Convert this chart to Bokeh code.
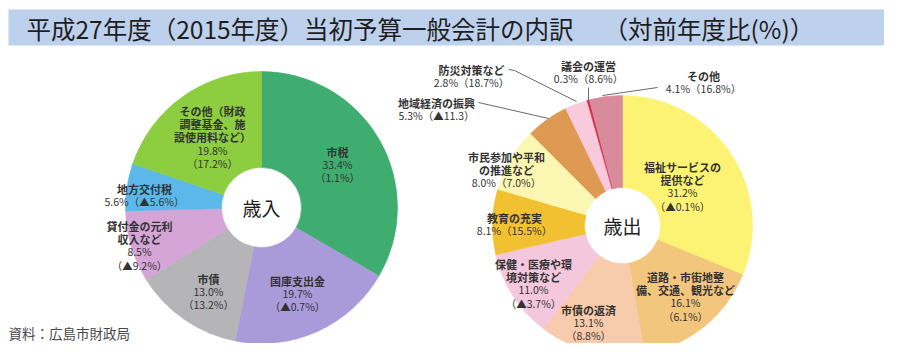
import numpy as np
from bokeh.plotting import figure
from bokeh.models import Range1d, ColumnDataSource
from bokeh.core.properties import value
from bokeh.embed import file_html
from bokeh.resources import INLINE

# ---------------- data ----------------
TITLE = "平成27年度（2015年度）当初予算一般会計の内訳　 （対前年度比(%)）"
SOURCE = "資料：広島市財政局"

rev_center_label = "歳入"
rev_names = ["市税", "国庫支出金", "市債", "貸付金の元利\n収入など", "地方交付税",
             "その他（財政\n調整基金、施\n設使用料など）"]
rev_share = [33.4, 19.7, 13.0, 8.5, 5.6, 19.8]
rev_change = ["1.1%", "▲0.7%", "13.2%", "▲9.2%", "▲5.6%", "17.2%"]
rev_colors = ["#3fad70", "#a99ad9", "#b5b5b7", "#d6a5d8", "#5cb8ea", "#8dcd40"]

exp_center_label = "歳出"
exp_names = ["福祉サービスの\n提供など", "道路・市街地整\n備、交通、観光など", "市債の返済",
             "保健・医療や環\n境対策など", "教育の充実", "市民参加や平和\nの推進など",
             "地域経済の振興", "防災対策など", "議会の運営", "その他"]
exp_share = [31.2, 16.1, 13.1, 11.0, 8.1, 8.0, 5.3, 2.8, 0.3, 4.1]
exp_change = ["▲0.1%", "6.1%", "8.8%", "▲3.7%", "15.5%", "7.0%", "▲11.3", "18.7%", "8.6%", "16.8%"]
exp_colors = ["#fcf374", "#f3c67e", "#f7cbab", "#f4c7dd", "#f1c132", "#fcf6b3",
              "#de9a52", "#f8cadb", "#d7304b", "#d98b9b"]

# ---------------- layout (image pixel coords) ----------------
IMG_H = 359
def Y(y):
    return IMG_H - y

REV_C = (261, 207); REV_R = (40, 136)
EXP_C = (622, 225); EXP_R = (38, 130)

# label anchor: (center x, first line y, percent+change joined on one line)
rev_lab = [(337, 151, False), (297, 280, False), (208, 278, False),
           (139, 225, False), (144, 188, True), (212, 110, False)]
exp_lab = [(682, 166, False), (685, 276, False), (588, 309, False),
           (533, 263, False), (514, 217, True), (506, 156, True),
           (436, 102, True), (471, 69, True), (588, 65, True), (703, 75, True)]
LINE_H = 13.2

exp_leaders = [  # index into exp series -> polyline in image coords
    (6, [478, 548], [102, 118]),
    (7, [508, 514, 576], [69, 70, 101]),
    (8, [588, 588], [87, 101]),
    (9, [602, 657], [95, 87]),
]

p = figure(width=884, height=343, x_range=Range1d(0, 884), y_range=Range1d(IMG_H - 343, IMG_H),
           output_backend="svg", toolbar_location=None, min_border=0,
           x_axis_location=None, y_axis_location=None)
p.grid.visible = False
p.outline_line_color = None
p.background_fill_color = "white"
p.border_fill_color = "white"

FONT = value("Noto Sans CJK JP")

# title bar
p.quad(left=[8], right=[888], top=[Y(9)], bottom=[Y(45)], fill_color="#bdd0ec",
       line_color=None)
p.text(x=[26], y=[Y(28)], text=[TITLE], text_font=FONT, text_font_size="24.5px",
       text_baseline="middle", text_align="left", text_color="#1e1e1e")


def donut(center, radii, shares, colors):
    cum = np.concatenate([[0.0], np.cumsum(shares)]) / 100.0
    start = np.pi / 2 - 2 * np.pi * cum[:-1]
    end = np.pi / 2 - 2 * np.pi * cum[1:]
    src = ColumnDataSource(dict(start=start, end=end, color=colors))
    p.annular_wedge(x=center[0], y=Y(center[1]), inner_radius=radii[0],
                    outer_radius=radii[1], start_angle="start", end_angle="end",
                    direction="clock", fill_color="color", line_color="color",
                    line_width=0.6, source=src)


def labels(names, shares, changes, layout):
    nx, ny, nt, vx, vy, vt = [], [], [], [], [], []
    for name, s, c, (lx, ly, joined) in zip(names, shares, changes, layout):
        lines = name.split("\n")
        for i, t in enumerate(lines):
            nx.append(lx); ny.append(Y(ly + i * LINE_H)); nt.append(t)
        vals = [f"{s:.1f}%（{c}）"] if joined else [f"{s:.1f}%", f"（{c}）"]
        for j, t in enumerate(vals):
            vx.append(lx); vy.append(Y(ly + (len(lines) + j) * LINE_H)); vt.append(t)
    p.text(x=nx, y=ny, text=nt, text_font=FONT, text_font_size="11px",
           text_font_style="bold", text_align="center", text_baseline="middle",
           text_color="#333333")
    p.text(x=vx, y=vy, text=vt, text_font=FONT, text_font_size="10.5px",
           text_align="center", text_baseline="middle", text_color="#333333")


donut(REV_C, REV_R, rev_share, rev_colors)
donut(EXP_C, EXP_R, exp_share, exp_colors)

p.multi_line(xs=[l[1] for l in exp_leaders], ys=[[Y(v) for v in l[2]] for l in exp_leaders],
             line_color="#6a6a6a", line_width=1)

labels(rev_names, rev_share, rev_change, rev_lab)
labels(exp_names, exp_share, exp_change, exp_lab)

p.text(x=[REV_C[0], EXP_C[0]], y=[Y(REV_C[1]), Y(EXP_C[1])],
       text=[rev_center_label, exp_center_label], text_font=FONT, text_font_size="19px",
       text_align="center", text_baseline="middle", text_color="#222222")

p.text(x=[8], y=[Y(332)], text=[SOURCE], text_font=FONT, text_font_size="13.5px",
       text_align="left", text_baseline="middle", text_color="#4a4a4a")

open("out.html", "w").write(file_html(p, INLINE))
